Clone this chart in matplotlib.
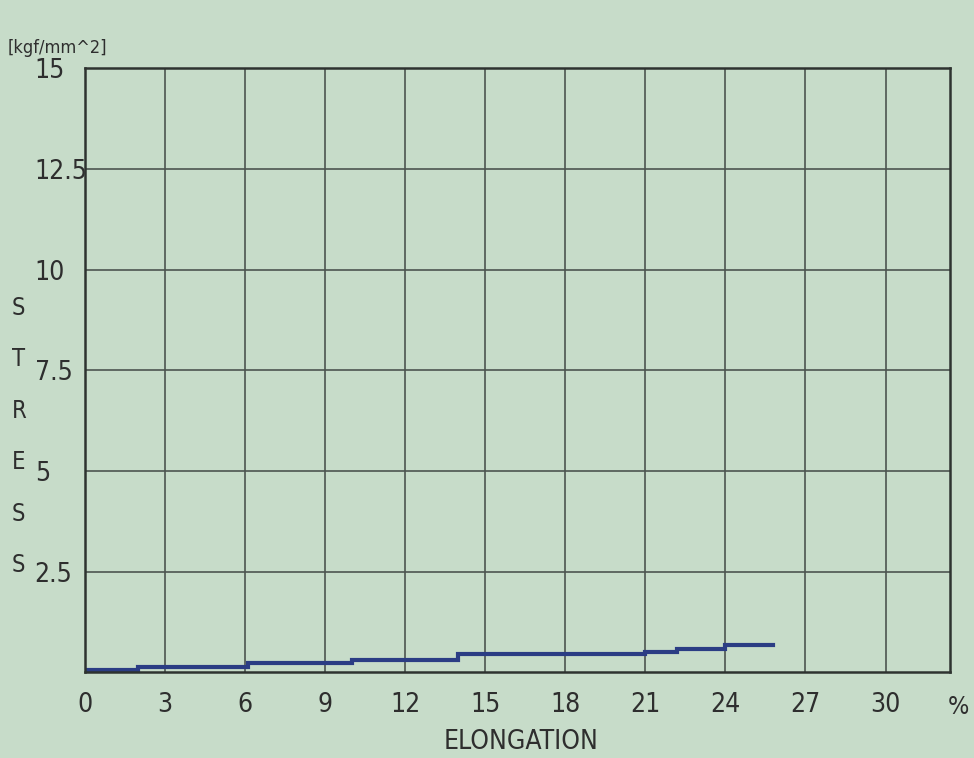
import numpy as np
import matplotlib
matplotlib.use("Agg")
import matplotlib.pyplot as plt

# step curve (elongation %, stress kgf/mm^2)
elong = [0.0, 2.0, 2.0, 6.1, 6.1, 10.0, 10.0, 14.0, 14.0, 21.0, 21.0, 22.2, 22.2, 24.0, 24.0, 25.8]
stress = [0.05, 0.05, 0.13, 0.13, 0.24, 0.24, 0.30, 0.30, 0.45, 0.45, 0.50, 0.50, 0.58, 0.58, 0.68, 0.68]

x_ticks = [0, 3, 6, 9, 12, 15, 18, 21, 24, 27, 30]
y_ticks = [2.5, 5, 7.5, 10, 12.5, 15]
y_tick_labels = ['2.5', '5', '7.5', '10', '12.5', '15']
y_letters = ['S', 'T', 'R', 'E', 'S', 'S']

plt.rcParams['font.family'] = ['DejaVu Sans']
plt.rcParams['font.stretch'] = 'condensed'

bg = '#c7dcc9'
ink = '#2e2e2e'
fig = plt.figure(figsize=(9.74, 7.58), dpi=100, facecolor=bg)
ax = fig.add_axes([0.087, 0.113, 0.888, 0.797])
ax.set_facecolor(bg)

ax.plot(elong, stress, color='#2b3d84', lw=3, solid_joinstyle='miter')

ax.set_xlim(0, 32.4)
ax.set_ylim(0, 15)
ax.set_xticks(x_ticks)
ax.set_yticks(y_ticks)
ax.set_yticklabels(y_tick_labels)
ax.grid(True, color='#4d5550', lw=1.2)
ax.tick_params(length=0, labelsize=19, colors=ink)
ax.tick_params(axis='x', pad=14)
ax.tick_params(axis='y', pad=36)
for lab in ax.get_yticklabels():
    lab.set_horizontalalignment('left')
for s in ax.spines.values():
    s.set_color('#2e3330')
    s.set_linewidth(1.8)

fig.text(0.008, 0.93, '[kgf/mm^2]', fontsize=13, color=ink)
for i, ch in enumerate(y_letters):
    fig.text(0.012, 0.585 - i * 0.068, ch, fontsize=17, color=ink)
fig.text(0.995, 0.058, '%', fontsize=18, color=ink, ha='right')
fig.text(0.535, 0.012, 'ELONGATION', fontsize=19, color=ink, ha='center')

fig.savefig('out.png', dpi=100, facecolor=bg)
